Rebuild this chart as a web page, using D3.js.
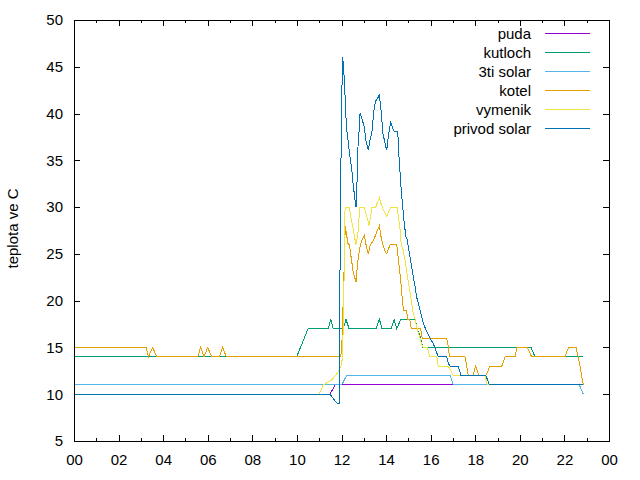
<!DOCTYPE html>
<meta charset="utf-8">
<script src="https://d3js.org/d3.v7.min.js"></script>
<style>
  body { margin: 0; background: #fff; }
  text { font-family: "Liberation Sans", Arial, sans-serif; font-size: 15px; fill: #000; }
</style>
<div id="my_dataviz"></div>
<script>

// tick labels
var hourTicks = [0, 2, 4, 6, 8, 10, 12, 14, 16, 18, 20, 22, 24];
var minorHours = d3.range(1, 24, 2);
var tempTicks = [5, 10, 15, 20, 25, 30, 35, 40, 45, 50];

// series [hour, temperature]
var puda = [[0,10],[11.48,10],[11.72,11],[22.85,11]];

var kutloch = [[0,14],[9.99,14],[10.5,17],[11.41,17],[11.52,18],[11.63,17],[12.08,17],[12.2,18],
  [12.34,17],[13.55,17],[13.7,18],[13.82,17],[14.22,17],[14.36,18],[14.48,17],[14.66,18],[15.3,18],
  [15.4,17],[15.55,16],[15.65,15],[20.5,15],[20.68,14],[22.85,14]];

var tretiSolar = [[0,11],[12.01,11],[12.23,12],[16.87,12],[17.02,11],[22.67,11],[22.85,10]];

var kotel = [[0,15],[3.23,15],[3.34,14],[3.53,15],[3.71,14],[5.55,14],[5.68,15],[5.83,14],[6.0,15],
  [6.18,14],[6.52,14],[6.67,15],[6.83,14],[11.97,14],[12.03,16],[12.1,22],[12.17,28],[12.23,27],
  [12.3,26],[12.36,26],[12.41,25],[12.47,24],[12.53,23],[12.65,22],[12.72,24],[12.78,25],[12.85,26],
  [12.92,26.5],[13.02,27],[13.1,26],[13.2,25],[13.3,26],[13.45,26.5],[13.6,27.5],[13.7,28],[13.76,27],
  [13.85,26],[13.95,25.3],[14.03,25],[14.18,26],[14.48,26],[14.55,24.5],[14.62,23],[14.68,21.5],
  [14.73,20],[14.78,19],[14.92,19],[14.97,18],[15.06,18],[15.13,17],[15.55,17],[15.62,16],[16.72,16],
  [16.8,15],[16.84,14],[17.54,14],[17.62,13],[17.69,12],[17.89,12],[18.02,13],[18.17,12],[18.48,12],
  [18.66,13],[19.19,13],[19.34,14],[19.79,14],[19.86,15],[20.34,15],[20.53,14],[22.03,14],[22.18,15],
  [22.52,15],[22.62,14],[22.7,13],[22.77,12],[22.85,11]];

var vymenik = [[0,10],[11.0,10],[11.18,11],[11.55,11.5],[11.8,12.2],[11.98,13],[12.05,14],[12.12,23],
  [12.16,30],[12.35,30],[12.41,29],[12.5,28],[12.57,27],[12.65,26],[12.73,27],[12.79,29],[12.83,30],
  [13.01,30],[13.1,29.3],[13.18,28.6],[13.23,28],[13.31,29],[13.36,30],[13.54,30],[13.61,30.5],[13.7,31],
  [13.77,30.4],[13.88,29.7],[14.03,29],[14.15,29.7],[14.21,30],[14.5,30],[14.55,29],[14.63,27.6],
  [14.68,26],[14.77,25.4],[14.85,24.3],[14.93,23],[15.0,22],[15.07,21],[15.15,19.7],[15.22,18.6],
  [15.3,18],[15.37,17.2],[15.45,16.5],[15.52,16],[15.6,15.3],[15.67,15],[15.84,15],[15.97,14],
  [16.28,14],[16.34,13],[16.79,13],[17.02,12],[18.44,12],[18.54,11],[22.85,11]];

var privodSolar = [[0,10],[11.48,10],[11.81,9],[11.89,9],[11.96,32],[12.04,46],[12.08,45.5],[12.1,44.6],
  [12.13,43.4],[12.17,41.3],[12.22,38.6],[12.31,36.8],[12.38,35.4],[12.46,34],[12.52,32.5],[12.59,31.1],
  [12.65,30],[12.68,31.1],[12.73,36.1],[12.79,38.2],[12.83,40],[12.91,39.5],[13.02,38.6],[13.09,37.2],
  [13.16,36.5],[13.2,36.1],[13.28,37.2],[13.36,37.9],[13.4,39],[13.46,40.4],[13.52,41.3],[13.61,41.6],
  [13.7,42],[13.73,41.3],[13.8,39.7],[13.85,37.9],[13.92,37.2],[13.98,36.5],[14.03,36.1],[14.1,37.5],
  [14.15,38.4],[14.21,39.1],[14.25,38.8],[14.3,38.4],[14.36,38.1],[14.5,38.1],[14.55,37.2],[14.58,35.4],
  [14.63,33.6],[14.68,31.8],[14.75,30],[14.8,28.6],[14.89,26.8],[14.95,26.5],[15.04,25.1],[15.15,23.6],
  [15.22,22.6],[15.3,21.5],[15.37,20.4],[15.52,19],[15.67,17.6],[15.82,16.7],[15.97,16],[16.12,15.4],
  [16.34,14],[16.72,14],[16.79,13.3],[16.87,13],[17.24,13],[17.36,12],[18.48,12],[18.63,11],[22.85,11]];

var names = ["puda", "kutloch", "3ti solar", "kotel", "vymenik", "privod solar"];
var allSeries = [puda, kutloch, tretiSolar, kotel, vymenik, privodSolar];
var colors = ["#9400d3", "#009e73", "#56b4e9", "#e69f00", "#f0e442", "#0072b2"];

var margin = {top: 20, right: 31, bottom: 39, left: 74},
    width = 640 - margin.left - margin.right,
    height = 480 - margin.top - margin.bottom;

var svg = d3.select("#my_dataviz")
  .append("svg")
    .attr("width", 640)
    .attr("height", 480)
  .append("g")
    .attr("transform", "translate(" + margin.left + "," + margin.top + ")");

var x = d3.scaleLinear().domain([0, 24]).range([0, width]);
var y = d3.scaleLinear().domain([5, 50]).range([height, 0]);

var fmtHour = function(h) { return d3.format("02d")(h % 24); };

// bottom axis with labels, ticks inward
svg.append("g")
  .attr("transform", "translate(0," + height + ")")
  .call(d3.axisBottom(x).tickValues(hourTicks).tickSize(-6).tickPadding(13).tickFormat(fmtHour));
svg.append("g")
  .attr("transform", "translate(0," + height + ")")
  .call(d3.axisBottom(x).tickValues(minorHours).tickSize(-3).tickFormat(""));
// mirrored top ticks
svg.append("g")
  .call(d3.axisTop(x).tickValues(hourTicks).tickSize(-6).tickFormat(""));
svg.append("g")
  .call(d3.axisTop(x).tickValues(minorHours).tickSize(-3).tickFormat(""));

// left / right
svg.append("g")
  .call(d3.axisLeft(y).tickValues(tempTicks).tickSize(-6).tickPadding(11));
svg.append("g")
  .attr("transform", "translate(" + width + ",0)")
  .call(d3.axisRight(y).tickValues(tempTicks).tickSize(-6).tickFormat(""));

svg.selectAll(".domain").remove();
svg.selectAll(".tick line").attr("stroke", "#000").attr("shape-rendering", "crispEdges");
svg.selectAll(".tick text").attr("font-size", null).attr("font-family", null);

// y label
svg.append("text")
  .attr("transform", "rotate(-90)")
  .attr("x", -height / 2 + 2)
  .attr("y", -56)
  .style("text-anchor", "middle")
  .text("teplota ve C");

// lines (no antialiasing, like the png terminal)
var line = d3.line()
  .x(function(d) { return x(d[0]); })
  .y(function(d) { return y(d[1]); });

allSeries.forEach(function(s, i) {
  svg.append("path")
    .datum(s)
    .attr("fill", "none")
    .attr("stroke", colors[i])
    .attr("stroke-width", 1)
    .attr("shape-rendering", "crispEdges")
    .attr("d", line);
});

// border
svg.append("rect")
  .attr("x", 0.5)
  .attr("y", 0.5)
  .attr("width", width)
  .attr("height", height)
  .attr("fill", "none")
  .attr("stroke", "#000")
  .attr("stroke-width", 1)
  .attr("shape-rendering", "crispEdges");

// legend
var legend = svg.selectAll(".leg")
  .data(names)
  .enter().append("g")
    .attr("transform", function(d, i) { return "translate(0," + (13.5 + i * 19) + ")"; });
legend.append("text")
  .attr("x", 457)
  .attr("dy", "0.35em")
  .style("text-anchor", "end")
  .text(function(d) { return d; });
legend.append("line")
  .attr("x1", 471).attr("x2", 516)
  .attr("shape-rendering", "crispEdges")
  .attr("stroke", function(d, i) { return colors[i]; });

</script>
